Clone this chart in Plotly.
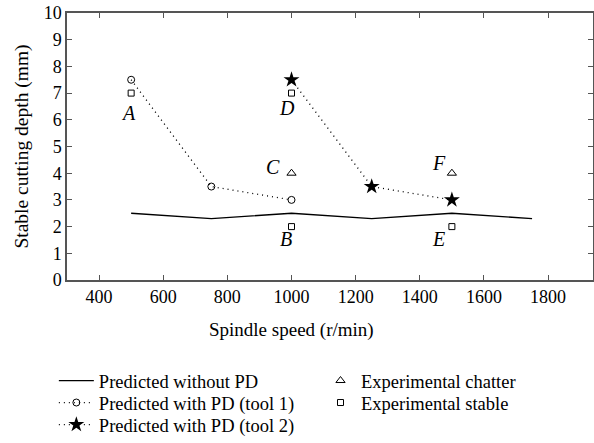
import plotly.graph_objects as go

# Data
speed_nopd = [500, 750, 1000, 1250, 1500, 1750]
depth_nopd = [2.5, 2.3, 2.5, 2.3, 2.5, 2.3]
speed_tool1 = [500, 750, 1000]
depth_tool1 = [7.5, 3.5, 3.0]
speed_tool2 = [1000, 1250, 1500]
depth_tool2 = [7.5, 3.5, 3.0]
speed_chatter = [1000, 1500]
depth_chatter = [4, 4]
speed_stable = [500, 1000, 1000, 1500]
depth_stable = [7, 2, 7, 2]
label_text = ["A", "B", "C", "D", "E", "F"]
label_x = [500, 1000, 1000, 1000, 1500, 1500]
label_y = [7, 2, 4, 7, 2, 4]
label_dx = [-3, -6, -19, -5, -13, -13]
label_dy = [-20, -12, 6, -15, -12, 10]

FONT = "serif"
DOT = "1px,4px"
fig = go.Figure()

fig.add_trace(go.Scatter(x=speed_nopd, y=depth_nopd, mode="lines",
                         line=dict(color="black", width=1.3),
                         name="Predicted without PD", legend="legend"))
fig.add_trace(go.Scatter(x=speed_tool1, y=depth_tool1, mode="lines+markers",
                         line=dict(color="black", width=1.3, dash=DOT),
                         marker=dict(symbol="circle-open", size=7, color="black",
                                     line=dict(width=1)),
                         name="Predicted with PD (tool 1)", legend="legend3"))
fig.add_trace(go.Scatter(x=speed_tool2, y=depth_tool2, mode="lines+markers",
                         line=dict(color="black", width=1.3, dash=DOT),
                         marker=dict(symbol="star", size=12, color="black"),
                         name="Predicted with PD (tool 2)", legend="legend5"))
fig.add_trace(go.Scatter(x=speed_chatter, y=depth_chatter, mode="markers",
                         marker=dict(symbol="triangle-up-open", size=8, color="black",
                                     line=dict(width=1)),
                         name="Experimental chatter", legend="legend2"))
fig.add_trace(go.Scatter(x=speed_stable, y=depth_stable, mode="markers",
                         marker=dict(symbol="square-open", size=6, color="black",
                                     line=dict(width=1)),
                         name="Experimental stable", legend="legend4"))

for t, x, y, dx, dy in zip(label_text, label_x, label_y, label_dx, label_dy):
    fig.add_annotation(x=x, y=y, text=f"<i>{t}</i>", showarrow=False,
                       xshift=dx, yshift=dy,
                       font=dict(family=FONT, size=20, color="black"))

# x-axis title (centred as in the original, not on the cropped plot area)
fig.add_annotation(xref="paper", yref="paper", x=0.426, y=-0.187,
                   xanchor="center", yanchor="middle", showarrow=False,
                   text="Spindle speed (r/min)",
                   font=dict(family=FONT, size=19, color="black"))

axis_common = dict(showline=True, linecolor="#555555", linewidth=1.5, mirror="ticks",
                   ticks="inside", ticklen=5, tickcolor="#555555", tickwidth=1,
                   showgrid=False, zeroline=False,
                   tickfont=dict(family=FONT, size=18, color="black"))

leg_common = dict(orientation="v", yanchor="middle", xanchor="left",
                  font=dict(family=FONT, size=18.5, color="black"),
                  tracegroupgap=0, bgcolor="rgba(0,0,0,0)")

def row_y(px):
    return (280 - px) / 267.0

fig.update_layout(
    width=594, height=443,
    font=dict(family=FONT),
    margin=dict(l=67, r=1, t=13, b=163, autoexpand=False),
    plot_bgcolor="white", paper_bgcolor="white",
    xaxis=dict(range=[300, 1940], tickvals=[400, 600, 800, 1000, 1200, 1400, 1600, 1800],
               **axis_common),
    yaxis=dict(range=[0, 10], dtick=1,
               title=dict(text="Stable cutting depth (mm)", font=dict(family=FONT, size=19.5, color="black"),
                          standoff=10),
               **axis_common),
    legend=dict(x=-0.025, y=row_y(381), itemwidth=35, **leg_common),
    legend3=dict(x=-0.025, y=row_y(403), itemwidth=35, **leg_common),
    legend5=dict(x=-0.025, y=row_y(425), itemwidth=35, **leg_common),
    legend2=dict(x=0.481, y=row_y(381), itemwidth=31, **leg_common),
    legend4=dict(x=0.481, y=row_y(403), itemwidth=31, **leg_common),
    showlegend=True,
)

fig.write_html("out.html")
